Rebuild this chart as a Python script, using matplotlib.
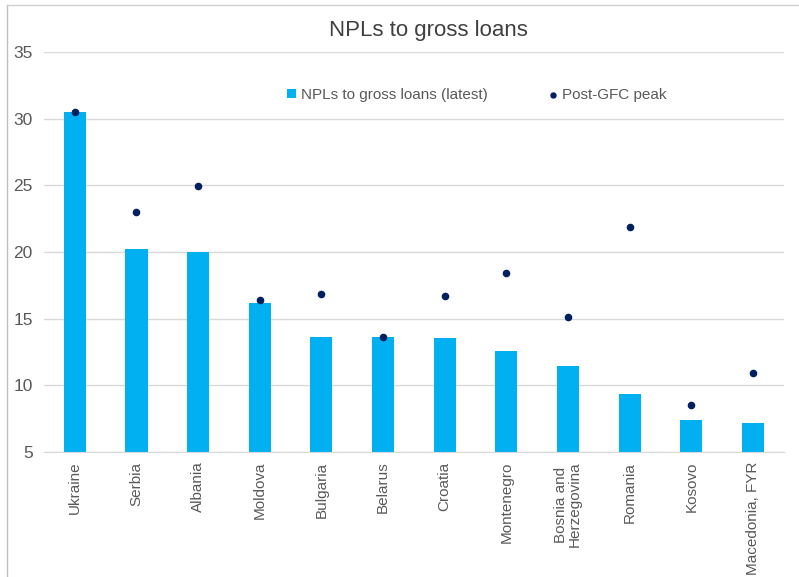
import matplotlib
matplotlib.use("Agg")
import matplotlib.pyplot as plt
import numpy as np

plt.rcParams["font.family"] = ["Liberation Sans", "DejaVu Sans"]

countries = ["Ukraine", "Serbia", "Albania", "Moldova", "Bulgaria", "Belarus",
             "Croatia", "Montenegro", "Bosnia and\nHerzegovina", "Romania",
             "Kosovo", "Macedonia, FYR"]
npl_latest = [30.5, 20.2, 20.0, 16.2, 13.65, 13.6, 13.55, 12.55, 11.45, 9.35, 7.4, 7.2]
post_gfc_peak = [30.5, 23.0, 24.95, 16.4, 16.85, 13.65, 16.7, 18.4, 15.1, 21.85, 8.55, 10.95]
y_ticks = [5, 10, 15, 20, 25, 30, 35]

BAR = "#00B0F0"
DOT = "#002060"
TXT = "#595959"
GRID = "#D9D9D9"

fig = plt.figure(figsize=(7.99, 5.77), dpi=100)
ax = fig.add_axes([0.055, 0.2166, 0.926, 0.6933])

x = np.arange(len(countries))
bars = ax.bar(x, [v - 5 for v in npl_latest], bottom=5, width=0.36, color=BAR,
              label="NPLs to gross loans (latest)", zorder=2)
dots = ax.scatter(x, post_gfc_peak, s=20, color=DOT, label="Post-GFC peak", zorder=3)

ax.set_xlim(-0.5, len(countries) - 0.5)
ax.set_ylim(5, 35)
ax.set_yticks(y_ticks)
ax.set_xticks(x)
ax.set_xticklabels(countries, rotation=90, fontsize=11, color=TXT, va="top",
                   linespacing=0.95)
ax.tick_params(axis="y", labelsize=12.5, labelcolor=TXT, length=0, pad=8)
ax.tick_params(axis="x", length=0, pad=7)
ax.yaxis.grid(True, color=GRID, linewidth=1, zorder=0)
ax.set_axisbelow(True)
for side in ("left", "right", "top"):
    ax.spines[side].set_visible(False)
ax.spines["bottom"].set_color(GRID)

fig.text(0.536, 0.947, "NPLs to gross loans", fontsize=16, color="#404040",
         ha="center", va="center")

ax.legend(handles=[bars, dots], loc="center", bbox_to_anchor=(0.585, 0.893),
          ncol=2, frameon=False, fontsize=11, labelcolor=TXT,
          handlelength=0.6, handleheight=0.6, handletextpad=0.3,
          columnspacing=4.0, markerscale=0.8)

# outer border of the original slide
fig.add_artist(plt.Line2D([0.009, 0.009], [0, 0.991], transform=fig.transFigure,
                          color="#BFBFBF", linewidth=1))
fig.add_artist(plt.Line2D([0.009, 1], [0.991, 0.991], transform=fig.transFigure,
                          color="#D0D0D0", linewidth=1))

fig.savefig("out.png", dpi=100)
